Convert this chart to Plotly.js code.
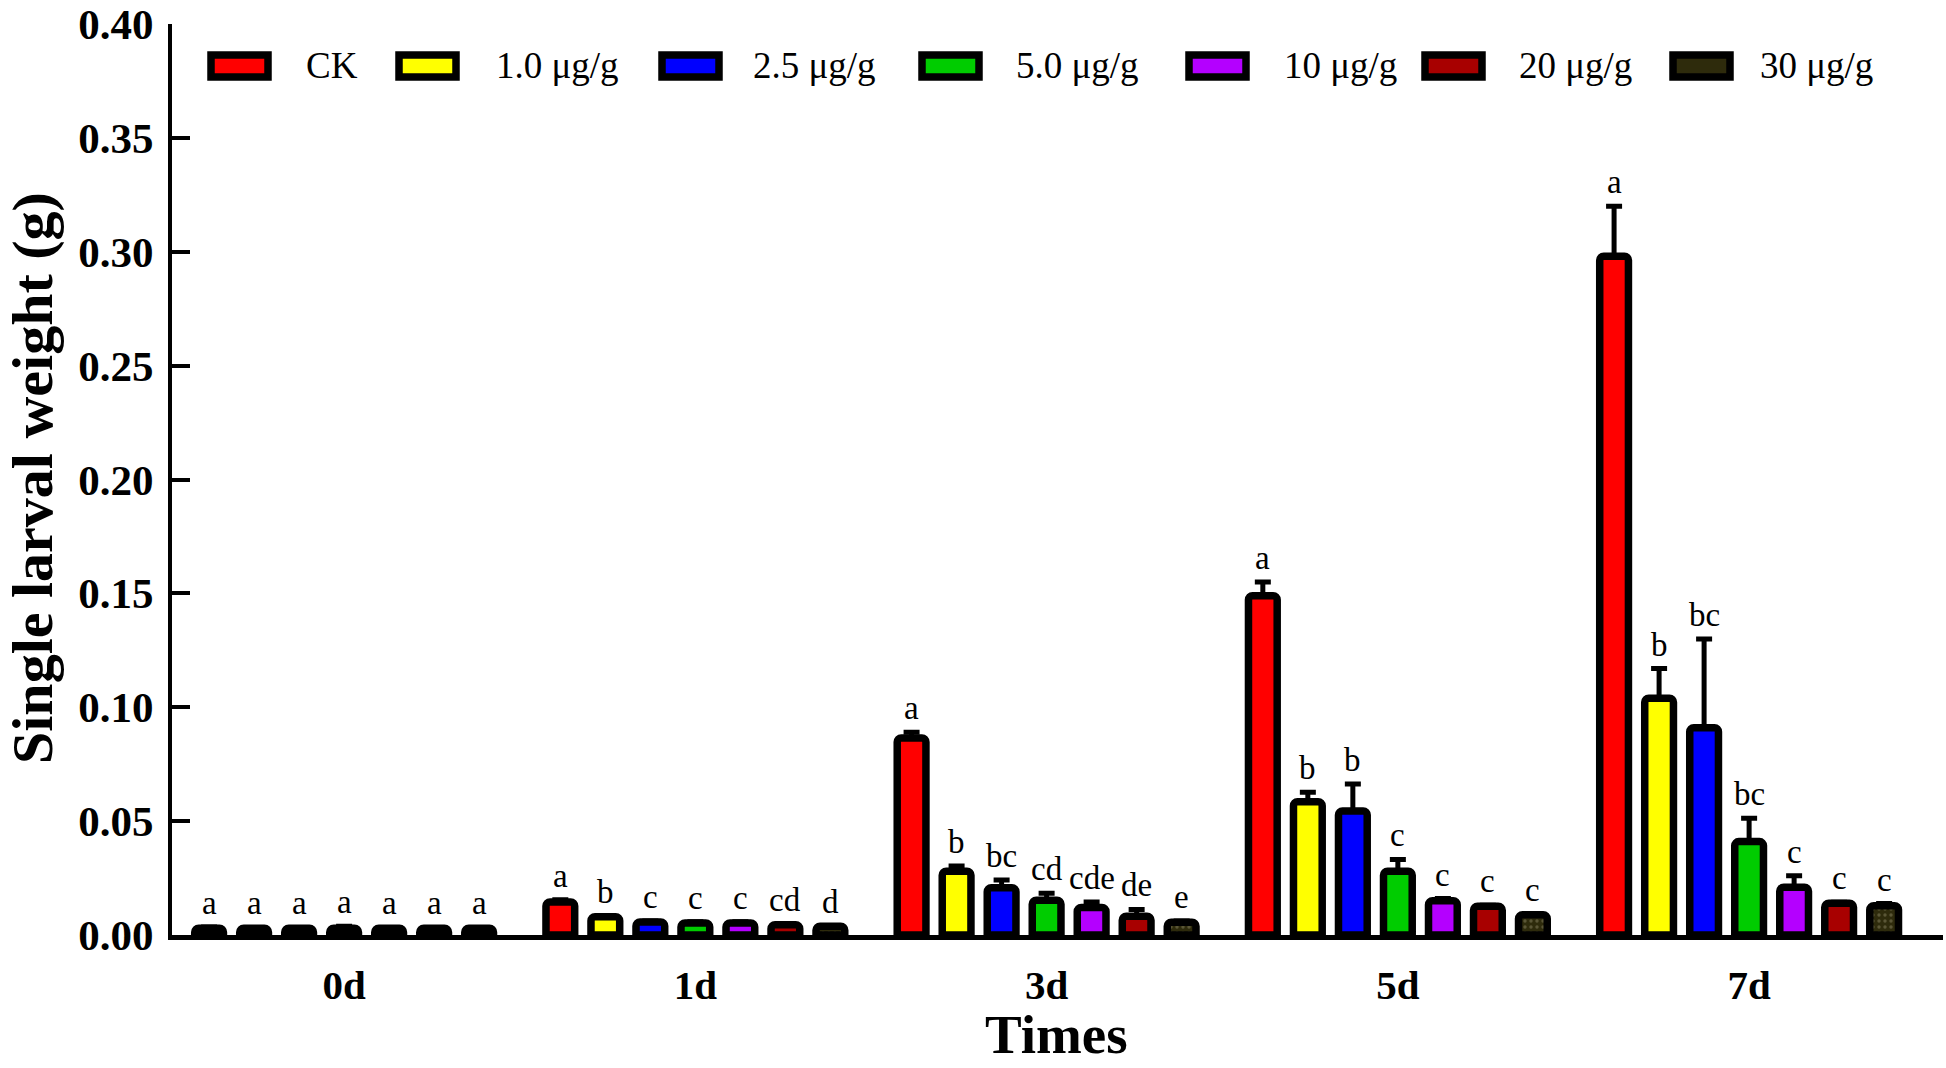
<!DOCTYPE html>
<html>
<head>
<meta charset="utf-8">
<script src="https://cdn.plot.ly/plotly-3.0.1.min.js"></script>
<style>html,body{margin:0;padding:0;background:#fff;}#chart{width:1946px;height:1068px;}</style>
</head>
<body>
<div id="chart"></div>
<script>
// ---- data ----
var times = ["0d", "1d", "3d", "5d", "7d"];
var seriesNames = ["CK", "1.0 μg/g", "2.5 μg/g", "5.0 μg/g", "10 μg/g", "20 μg/g", "30 μg/g"];
var ckVals   = [0.003, 0.0145, 0.0865, 0.149, 0.298];
var c1Vals   = [0.003, 0.008,  0.028,  0.0585, 0.104];
var c25Vals  = [0.003, 0.0057, 0.0208, 0.0544, 0.091];
var c5Vals   = [0.003, 0.0053, 0.0153, 0.028,  0.041];
var c10Vals  = [0.003, 0.0053, 0.0121, 0.015,  0.021];
var c20Vals  = [0.003, 0.0045, 0.0082, 0.0126, 0.0139];
var c30Vals  = [0.003, 0.0038, 0.0056, 0.0089, 0.0128];
var ckErr    = [0.0005, 0.001, 0.0025, 0.006, 0.022];
var c1Err    = [0.0003, 0.0005, 0.0023, 0.0042, 0.013];
var c25Err   = [0.0003, 0.0005, 0.0034, 0.0119, 0.039];
var c5Err    = [0.0008, 0.0005, 0.003,  0.0052, 0.0103];
var c10Err   = [0.0003, 0.0005, 0.0024, 0.001,  0.005];
var c20Err   = [0.0003, 0.0005, 0.003,  0.0005, 0.0005];
var c30Err   = [0.0003, 0.0003, 0.0005, 0.0005, 0.001];
var ckSig    = ["a", "a", "a", "a", "a"];
var c1Sig    = ["a", "b", "b", "b", "b"];
var c25Sig   = ["a", "c", "bc", "b", "bc"];
var c5Sig    = ["a", "c", "cd", "c", "bc"];
var c10Sig   = ["a", "c", "cde", "c", "c"];
var c20Sig   = ["a", "cd", "de", "c", "c"];
var c30Sig   = ["a", "d", "e", "c", "c"];
var yTicks   = [0, 0.05, 0.10, 0.15, 0.20, 0.25, 0.30, 0.35, 0.40];
var xTitle = "Times";
var yTitle = "Single larval weight (g)";

// ---- style ----
var colors = ["#ff0000", "#ffff00", "#0000ff", "#00cc00", "#b400ff", "#a80000", "#2e2b0c"];
var allVals = [ckVals, c1Vals, c25Vals, c5Vals, c10Vals, c20Vals, c30Vals];
var allErr  = [ckErr, c1Err, c25Err, c5Err, c10Err, c20Err, c30Err];
var allSig  = [ckSig, c1Sig, c25Sig, c5Sig, c10Sig, c20Sig, c30Sig];
var FONT = "Liberation Serif, Times New Roman, serif";
var W = 1946, H = 1068, ML = 172, MR = 3, MT = 24, MB = 133;
var BARGAP = 0.103, GROUPGAP = 0.362;
var N = seriesNames.length;

var traces = [];
for (var j = 0; j < N; j++) {
  var marker = {color: colors[j], line: {color: "#000", width: 7.5}, cornerradius: 4};
  if (j === N - 1) {
    marker.pattern = {shape: ".", fgcolor: "#5a5636", bgcolor: colors[j], size: 6, solidity: 0.25};
  }
  traces.push({
    type: "bar", name: seriesNames[j], x: times, y: allVals[j],
    marker: marker,
    error_y: {type: "data", symmetric: false, array: allErr[j],
              arrayminus: allErr[j].map(function(){return 0;}),
              color: "#000", thickness: 5, width: 8},
    showlegend: false, hoverinfo: "skip"
  });
}

// significance letters above bars
var annotations = [];
var slot = (1 - BARGAP) / N;
for (var j2 = 0; j2 < N; j2++) {
  for (var i = 0; i < times.length; i++) {
    annotations.push({
      x: i + (j2 - (N - 1) / 2) * slot, xref: "x",
      y: allVals[j2][i] + allErr[j2][i], yref: "y",
      text: allSig[j2][i], showarrow: false, yanchor: "bottom", yshift: 4,
      font: {family: FONT, size: 33, color: "#000"}
    });
  }
}

// custom legend (wide rounded swatches)
var pw = W - ML - MR, ph = H - MT - MB;
function px2x(p) { return (p - ML) / pw; }
function py2y(p) { return (H - MB - p) / ph; }
var legSym = [207, 395, 658, 918, 1185, 1421, 1669];
var legTxt = [304, 494, 751, 1014, 1282, 1517, 1758];
var shapes = [];
for (var k = 0; k < N; k++) {
  shapes.push({
    type: "rect", xref: "paper", yref: "paper",
    x0: px2x(legSym[k] + 4), x1: px2x(legSym[k] + 61),
    y0: py2y(77), y1: py2y(55),
    fillcolor: colors[k], line: {color: "#000", width: 7.5}
  });
  annotations.push({
    x: px2x(legTxt[k]), xref: "paper", y: py2y(66), yref: "paper",
    xanchor: "left", yanchor: "middle", showarrow: false,
    text: seriesNames[k], font: {family: FONT, size: 37, color: "#000"}
  });
}

// axis titles
annotations.push({
  x: px2x(1056), xref: "paper", y: py2y(1034), yref: "paper",
  xanchor: "center", yanchor: "middle", showarrow: false,
  text: "<b>" + xTitle + "</b>", font: {family: FONT, size: 55, color: "#000"}
});
annotations.push({
  x: px2x(32), xref: "paper", y: py2y(478), yref: "paper",
  xanchor: "center", yanchor: "middle", showarrow: false, textangle: -90,
  text: "<b>" + yTitle + "</b>", font: {family: FONT, size: 58, color: "#000"}
});

var layout = {
  width: W, height: H,
  margin: {l: ML, r: MR, t: MT, b: MB, pad: 0},
  paper_bgcolor: "#fff", plot_bgcolor: "#fff",
  barmode: "group", bargap: BARGAP, bargroupgap: GROUPGAP,
  font: {family: FONT, color: "#000"},
  xaxis: {
    type: "category", range: [-0.49, 4.552],
    showline: true, linecolor: "#000", linewidth: 4.5,
    ticks: "", showgrid: false, zeroline: false,
    tickfont: {family: FONT, size: 41, color: "#000", weight: "bold"},
    ticklabelstandoff: 10
  },
  yaxis: {
    range: [0, 0.40], tickvals: yTicks, tickformat: ".2f",
    showline: true, linecolor: "#000", linewidth: 4,
    ticks: "inside", ticklen: 18, tickwidth: 4, tickcolor: "#000",
    showgrid: false, zeroline: false,
    ticklabeloverflow: "allow",
    tickfont: {family: FONT, size: 43, color: "#000", weight: "bold"},
    ticklabelstandoff: 6
  },
  annotations: annotations,
  shapes: shapes
};

Plotly.newPlot("chart", traces, layout, {displayModeBar: false, staticPlot: true});
</script>
</body>
</html>
